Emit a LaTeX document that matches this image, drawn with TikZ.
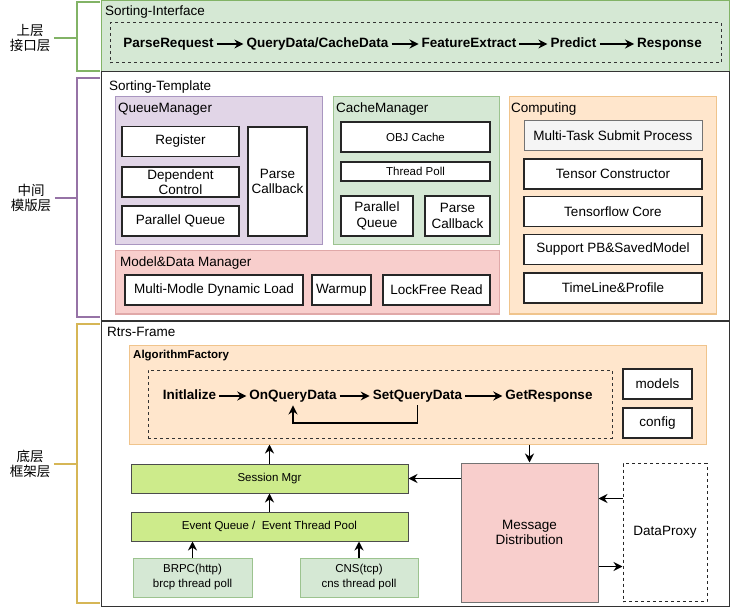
\documentclass[tikz,border=0pt]{standalone}
\usepackage{fontspec}
\setmainfont{Liberation Sans}
\newfontfamily\cjk{Noto Sans CJK SC}
\usetikzlibrary{arrows.meta}
\definecolor{grnfill}{HTML}{D5E8D4}
\definecolor{grnline}{HTML}{9CC38F}
\definecolor{purfill}{HTML}{E1D5E7}
\definecolor{purline}{HTML}{A996C0}
\definecolor{redfill}{HTML}{F8CECC}
\definecolor{redline}{HTML}{E0A8A8}
\definecolor{orgfill}{HTML}{FFE6CC}
\definecolor{orgline}{HTML}{F0C48C}
\definecolor{limefill}{HTML}{CDEB8B}
\definecolor{brgreen}{HTML}{82B366}
\definecolor{brpurple}{HTML}{9673A6}
\definecolor{brgold}{HTML}{D6B656}

\tikzset{
  box/.style={draw=black!85, fill=white, line width=1.2pt, inner sep=0pt, align=center},
  panel/.style 2 args={draw=#2, fill=#1, line width=1pt, inner sep=0pt},
  ttl/.style={anchor=base west, inner sep=0pt, font=\fontsize{13.5}{16}\selectfont},
  small/.style={font=\fontsize{11.5}{15}\selectfont},
  flow/.style={font=\fontsize{13.5}{16}\selectfont\bfseries, inner sep=3pt, text height=9.7pt, text depth=2.8pt},
  dbox/.style={draw=black!80, dashed, dash pattern=on 3pt off 3pt, line width=1pt, inner sep=0pt},
  arr/.style={->, line width=1.6pt},
  brace/.style={line width=1.5pt},
  layer/.style={align=center, font=\cjk\fontsize{13.5}{14.5}\selectfont}
}

\begin{document}
\begin{tikzpicture}[x=1pt, y=-1pt, >={Stealth[length=9pt,width=9pt,inset=3pt]},
    font=\fontsize{13.5}{15.5}\selectfont]
    \useasboundingbox (0,0) rectangle (732,607);

    \node[layer] (ltop) at (30,38) {上层\\接口层};
    \node[layer] (lmid) at (31,198) {中间\\模版层};
    \node[layer] (lbot) at (30,464) {底层\\框架层};
    \draw[brace, brgreen] (100,2) -- (77,2) -- (77,71) -- (100,71);
    \draw[brace, brgreen] (ltop.east) -- (77,38);
    \draw[brace, brpurple] (100,78) -- (77,78) -- (77,317) -- (100,317);
    \draw[brace, brpurple] (lmid.east) -- (77,198);
    \draw[brace, brgold] (100,324) -- (77,324) -- (77,603) -- (100,603);
    \draw[brace, brgold] (lbot.east) -- (77,464);

    \node[panel={grnfill}{brgreen}, minimum width=628pt, minimum height=71pt] (ifc) at (415,36.5) {};
    \node[ttl] (ifcT) at (105,16) {Sorting-Interface};
    \node[dbox, minimum width=611pt, minimum height=40pt] (ifcflow) at (415.5,43) {};
    \foreach \X/\N/\T in {168.5/pr/ParseRequest, 317.5/qd/{QueryData/CacheData},
                          469/fe/FeatureExtract, 573.5/pd/Predict, 669.5/rs/Response} {
        \node[flow] (\N) at (\X,44) {\T};
        }
    \foreach \a/\b in {pr/qd, qd/fe, fe/pd, pd/rs} {
        \draw[arr] (\a) -- (\b);
        }

    \node[panel={white}{black!80}, minimum width=628pt, minimum height=248pt] (tpl) at (415,196) {};
    \node[ttl] (tplT) at (109,91) {Sorting-Template};

    \node[panel={purfill}{purline}, minimum width=207pt, minimum height=148pt] (qm) at (218.5,171) {};
    \node[ttl] (qmT) at (118,113) {QueueManager};
    \foreach \Y/\N/\T in {141.5/reg/Register, 182/dep/{Dependent\\Control}, 221/qpq/{Parallel Queue}} {
        \node[box, minimum width=117pt, minimum height=30pt] (\N) at (180.5,\Y) {\T};
        }
    \node[box, minimum width=59pt, minimum height=109pt] (qpcb) at (277.5,181.5) {Parse\\Callback};

    \node[panel={grnfill}{grnline}, minimum width=166pt, minimum height=148pt] (cm) at (416,171) {};
    \node[ttl] (cmT) at (336,113) {CacheManager};
    \node[box, small, minimum width=149pt, minimum height=30pt] (obj) at (415.5,137) {OBJ Cache};
    \node[box, small, minimum width=149pt, minimum height=19pt] (tpoll) at (415.5,171.5) {Thread Poll};
    \node[box, minimum width=72pt, minimum height=40pt] (cpq) at (377,216) {Parallel\\Queue};
    \node[box, minimum width=65pt, minimum height=40pt] (cpcb) at (457.5,216) {Parse\\Callback};

    \node[panel={orgfill}{orgline}, minimum width=207pt, minimum height=217pt] (cmp) at (612.5,205.5) {};
    \node[ttl] (cmpT) at (511,113) {Computing};
    \node[box, fill=black!4, draw=black!55, line width=1pt, minimum width=178pt, minimum height=30pt] (mts) at (613,136) {Multi-Task Submit Process};
    \foreach \Y/\N/\T in {174/tc/{Tensor Constructor}, 211.5/tfc/{Tensorflow Core},
                          249.5/spb/{Support PB\&SavedModel}, 288/tlp/{TimeLine\&Profile}} {
        \node[box, minimum width=178pt, minimum height=30pt] (\N) at (613,\Y) {\T};
        }

    \node[panel={redfill}{redline}, minimum width=384pt, minimum height=63pt] (mdm) at (307,282.5) {};
    \node[ttl] (mdmT) at (120,267) {Model\&Data Manager};
    \node[box, minimum width=178pt, minimum height=30pt] (mml) at (214,290) {Multi-Modle Dynamic Load};
    \node[box, minimum width=59pt, minimum height=30pt] (wu) at (341.5,290) {Warmup};
    \node[box, minimum width=107pt, minimum height=30pt] (lfr) at (436.5,290) {LockFree Read};

    \node[panel={white}{black!80}, minimum width=628pt, minimum height=285pt] (rf) at (415,463.5) {};
    \node[ttl] (rfT) at (107,336) {Rtrs-Frame};

    \node[panel={orgfill}{orgline}, minimum width=577pt, minimum height=99pt] (af) at (417.5,394.5) {};
    \node[ttl, font=\fontsize{11.5}{14}\selectfont\bfseries] (afT) at (133,359) {AlgorithmFactory};
    \node[dbox, minimum width=464pt, minimum height=68pt] (afflow) at (380,404) {};
    \foreach \X/\N/\T in {189.5/init/Initlalize, 293/oqd/OnQueryData, 417.5/sqd/SetQueryData, 549/gr/GetResponse} {
        \node[flow] (\N) at (\X,396) {\T};
        }
    \foreach \a/\b in {init/oqd, oqd/sqd, sqd/gr} {
        \draw[arr] (\a) -- (\b);
        }
    \coordinate (loopy) at (0,423);
    \draw[arr] (sqd.south) |- (loopy -| oqd.south) -- (oqd.south);
    \node[box, minimum width=69pt, minimum height=30pt] (mdl) at (657.5,384) {models};
    \node[box, minimum width=69pt, minimum height=30pt] (cfg) at (657.5,423) {config};

    \node[box, small, fill=limefill, draw=black!70, line width=1pt, minimum width=277pt, minimum height=29pt] (sm) at (269.5,478.5) {Session Mgr};
    \node[box, small, fill=limefill, draw=black!70, line width=1pt, minimum width=277pt, minimum height=29pt] (eq) at (269.5,526.5) {Event Queue / \ Event Thread Pool};
    \node[box, small, fill=grnfill, draw=grnline, line width=1pt, minimum width=119pt, minimum height=39pt] (brpc) at (192.5,577.5) {BRPC(http)\\brcp thread poll};
    \node[box, small, fill=grnfill, draw=grnline, line width=1pt, minimum width=118pt, minimum height=39pt] (cns) at (359,577.5) {CNS(tcp)\\cns thread poll};
    \node[box, fill=redfill, draw=black!55, line width=1pt, minimum width=137pt, minimum height=139pt] (md) at (529.5,532.5) {Message\\Distribution};
    \node[box, dashed, dash pattern=on 3pt off 3pt, line width=1pt, minimum width=84pt, minimum height=138pt] (dp) at (665,532.5) {DataProxy};

    \draw[arr] (sm) -- (sm |- af.south);
    \draw[arr] (eq) -- (sm);
    \draw[arr] (brpc) -- (brpc |- eq.south);
    \draw[arr] (cns) -- (cns |- eq.south);
    \draw[arr] (md |- af.south) -- (md);
    \draw[arr] (md.west |- sm) -- (sm);
    \draw[arr] ([yshift=34pt]dp.west) -- ([yshift=34pt]md.east);
    \draw[arr] ([yshift=-34pt]md.east) -- ([yshift=-34pt]dp.west);
\end{tikzpicture}
\end{document}
